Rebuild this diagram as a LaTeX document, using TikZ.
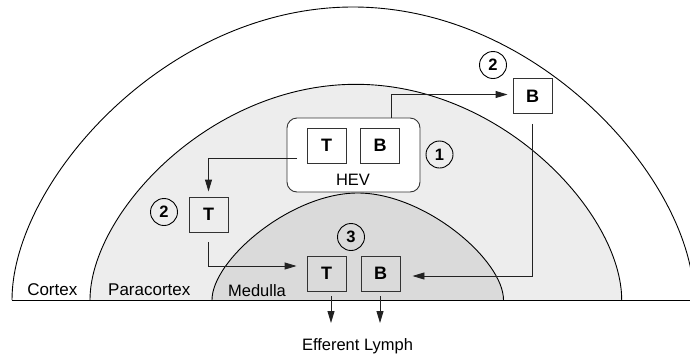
\documentclass[tikz,border=0pt]{standalone}
\usepackage{fontspec}
\setmainfont{Liberation Sans}
\usetikzlibrary{arrows.meta}
\definecolor{boxgray}{HTML}{333333}
\definecolor{linegray}{HTML}{222222}
\definecolor{parafill}{HTML}{EDEDED}
\definecolor{medfill}{HTML}{DADADA}
\begin{document}
\begin{tikzpicture}[x=1pt,y=-1pt,
  cell/.style={draw=boxgray, line width=0.9pt, minimum width=39pt, minimum height=35pt, inner sep=0pt, font=\fontsize{18}{20}\selectfont\bfseries},
  num/.style={draw=black, circle, line width=0.9pt, minimum size=27pt, inner sep=0pt, font=\fontsize{16.5}{18}\selectfont\bfseries},
  lbl/.style={anchor=base, inner sep=0pt, font=\fontsize{17}{20}\selectfont},
  arr/.style={draw=linegray, line width=0.9pt, -{Triangle[length=12pt,width=7pt]}},
  zone/.style={draw=black, line width=0.9pt}]
\useasboundingbox (0,0) rectangle (690,354);
\fill[white] (0,0) rectangle (690,354);
% cortex
\draw[zone] (12,300) .. controls (12,182.8) and (165.4,7) .. (353,7) .. controls (540.6,7) and (694,182.8) .. (694,300);
% paracortex
\fill[parafill] (90,300) .. controls (90,213.7) and (209.6,84.3) .. (355.85,84.3) .. controls (502.1,84.3) and (621.7,213.7) .. (621.7,300) -- cycle;
\draw[zone] (90,300) .. controls (90,213.7) and (209.6,84.3) .. (355.85,84.3) .. controls (502.1,84.3) and (621.7,213.7) .. (621.7,300);
% medulla
\fill[medfill] (212,300) .. controls (212,260) and (290.7,193) .. (357.75,193) .. controls (424.8,193) and (503.5,260) .. (503.5,300) -- cycle;
\draw[zone] (212,300) .. controls (212,260) and (290.7,193) .. (357.75,193) .. controls (424.8,193) and (503.5,260) .. (503.5,300);
% baseline
\draw[zone] (12,300) -- (690,300);
% region labels
\node[lbl] (cortex) at (52.3,295.5) {Cortex};
\node[lbl] (paracortex) at (149.3,295.3) {Paracortex};
\node[lbl, font=\fontsize{16.5}{20}\selectfont] (medulla) at (257,296.5) {Medulla};
% HEV
\node[draw=boxgray, fill=white, rounded corners=10pt, line width=0.9pt, minimum width=133pt, minimum height=74pt] (hev) at (353.5,155) {};
\node[cell] (hevT) at (326.5,145.5) {T};
\node[cell] (hevB) at (380,145.5) {B};
\node[lbl, font=\fontsize{16.5}{20}\selectfont] (hevlbl) at (353,185) {HEV};
\node[num] (n1) at (439.5,154.5) {1};
% stage 2
\node[cell] (upB) at (532.5,96) {B};
\node[num] (n2a) at (493,65) {2};
\node[cell] (leftT) at (208.5,214.5) {T};
\node[num] (n2b) at (164,212) {2};
% stage 3
\node[cell] (medT) at (326.5,273.5) {T};
\node[cell] (medB) at (380.5,273.5) {B};
\node[num] (n3) at (351,237) {3};
\node[lbl, font=\fontsize{16.5}{20}\selectfont] (lymph) at (357.5,350) {Efferent Lymph};
% connectors
\coordinate (hevexit) at (297,158);
\coordinate (tT) at (331,323);
\coordinate (tB) at (380,323);
\draw[arr, shorten >=5pt] ([xshift=37.5pt]hev.north) |- ([yshift=1.5pt]upB.west);
\draw[arr, shorten >=5pt] (hevexit) -| (leftT.north);
\draw[arr, shorten <=10pt, shorten >=10pt] (leftT.south) |- ([yshift=7.5pt]medT.west);
\draw[arr, shorten <=10pt, shorten >=12pt] (upB.south) |- ([yshift=-2.5pt]medB.east);
\draw[arr, shorten <=5pt] ([xshift=4.5pt]medT.south) -- (tT);
\draw[arr, shorten <=5pt] (medB.south -| tB) -- (tB);
\end{tikzpicture}
\end{document}
